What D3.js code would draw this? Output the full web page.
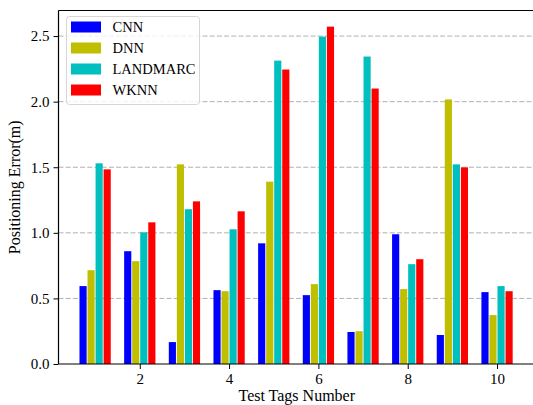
<!DOCTYPE html>
<html>
<head>
<meta charset="utf-8">
<script src="https://cdn.jsdelivr.net/npm/d3@7"></script>
<style>
  html, body { margin: 0; padding: 0; background: #fff; }
  svg, svg text { font-family: "Liberation Serif", "Times New Roman", serif !important; }
  svg { display: block; }
</style>
</head>
<body>
<svg id="chart" width="533" height="405"></svg>
<script>
// Positioning error (m) per test tag, for each method
const tags = [1, 2, 3, 4, 5, 6, 7, 8, 9, 10];
const seriesNames = ["CNN", "DNN", "LANDMARC", "WKNN"];
const cnn      = [0.594, 0.860, 0.167, 0.563, 0.920, 0.525, 0.244, 0.989, 0.221, 0.548];
const dnn      = [0.715, 0.784, 1.522, 0.555, 1.390, 0.609, 0.250, 0.571, 2.017, 0.373];
const landmarc = [1.530, 1.004, 1.180, 1.027, 2.313, 2.496, 2.344, 0.761, 1.522, 0.594];
const wknn     = [1.484, 1.080, 1.240, 1.164, 2.245, 2.572, 2.100, 0.799, 1.499, 0.555];
const xTicks = [2, 4, 6, 8, 10];
const yTicks = [0, 0.5, 1.0, 1.5, 2.0, 2.5];
const colors = ["#0000ff", "#bfbf00", "#00bfbf", "#ff0000"];

const seriesValues = [cnn, dnn, landmarc, wknn];

const svg = d3.select("#chart");
const plotLeft = 58.5, plotRight = 535, plotTop = 10.5, plotBottom = 364;

const x = d3.scaleLinear().domain([0.18, 10.85]).range([plotLeft, plotRight]);
const y = d3.scaleLinear().domain([0, 2.695]).range([plotBottom, plotTop]);

const step = 0.18, barW = 0.16;

// horizontal dashed grid
svg.append("g")
  .selectAll("line")
  .data(yTicks.filter(d => d > 0))
  .join("line")
  .attr("x1", plotLeft).attr("x2", plotRight)
  .attr("y1", d => y(d)).attr("y2", d => y(d))
  .attr("stroke", "#b0b0b0")
  .attr("stroke-width", 1)
  .attr("stroke-dasharray", "5,2.2");

// grouped bars
seriesValues.forEach((vals, i) => {
  const off = (i - 1.5) * step;
  svg.append("g")
    .selectAll("rect")
    .data(tags.map((t, j) => ({ t, v: vals[j] })))
    .join("rect")
    .attr("x", d => x(d.t + off - barW / 2))
    .attr("width", x(barW) - x(0))
    .attr("y", d => y(d.v))
    .attr("height", d => y(0) - y(d.v))
    .attr("fill", colors[i]);
});

// axes
const xAxis = d3.axisBottom(x).tickValues(xTicks).tickFormat(d3.format("d"))
  .tickSizeOuter(0).tickSize(5).tickPadding(4);
const gx = svg.append("g").attr("transform", `translate(0,${plotBottom})`).call(xAxis);
gx.attr("font-family", null).attr("font-size", 15);
gx.select(".domain").remove();
gx.selectAll("text").attr("fill", "#000");
gx.selectAll("line").attr("stroke", "#000").attr("stroke-width", 1);

const yAxis = d3.axisLeft(y).tickValues(yTicks).tickFormat(d3.format(".1f"))
  .tickSizeOuter(0).tickSize(5).tickPadding(4);
const gy = svg.append("g").attr("transform", `translate(${plotLeft},0)`).call(yAxis);
gy.attr("font-family", null).attr("font-size", 15);
gy.select(".domain").remove();
gy.selectAll("text").attr("fill", "#000");
gy.selectAll("line").attr("stroke", "#000").attr("stroke-width", 1);

// frame: left, top, bottom spines
const spine = svg.append("g").attr("stroke", "#000").attr("stroke-width", 1.2);
spine.append("line").attr("x1", plotLeft).attr("x2", plotLeft).attr("y1", plotTop).attr("y2", plotBottom);
spine.append("line").attr("x1", plotLeft).attr("x2", plotRight).attr("y1", plotTop).attr("y2", plotTop);
spine.append("line").attr("x1", plotLeft).attr("x2", plotRight).attr("y1", plotBottom).attr("y2", plotBottom);

// axis titles
svg.append("text")
  .attr("x", (plotLeft + plotRight) / 2).attr("y", 401)
  .attr("text-anchor", "middle").attr("font-size", 16)
  .text("Test Tags Number");
svg.append("text")
  .attr("transform", `translate(20,${(plotTop + plotBottom) / 2}) rotate(-90)`)
  .attr("text-anchor", "middle").attr("font-size", 16)
  .text("Positioning Error(m)");

// legend
const lg = svg.append("g").attr("transform", "translate(66.5,16.5)");
lg.append("rect")
  .attr("width", 133).attr("height", 88).attr("rx", 3)
  .attr("fill", "#fff").attr("fill-opacity", 0.8)
  .attr("stroke", "#d6d6d6").attr("stroke-width", 1);
seriesNames.forEach((name, i) => {
  const row = lg.append("g").attr("transform", `translate(0,${5 + i * 21})`);
  row.append("rect").attr("x", 4.5).attr("y", 0).attr("width", 30).attr("height", 11)
    .attr("fill", colors[i]);
  row.append("text").attr("x", 46).attr("y", 10.5).attr("font-size", 14.5)
    .attr("fill", "#000").text(name);
});
</script>
</body>
</html>
